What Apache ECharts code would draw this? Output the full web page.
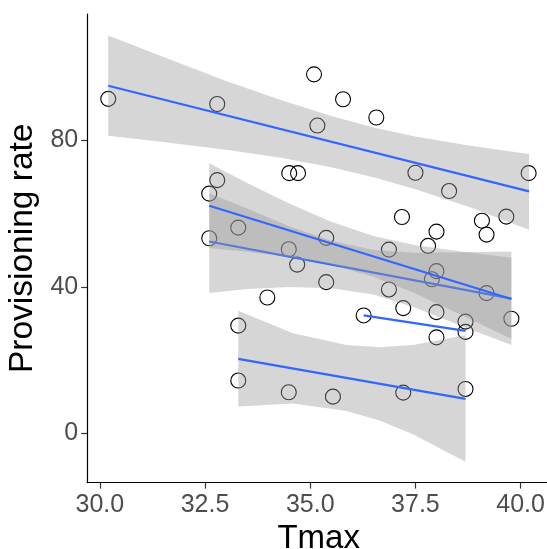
<!DOCTYPE html>
<html>
<head>
<meta charset="utf-8">
<script src="https://cdn.jsdelivr.net/npm/echarts@6/dist/echarts.min.js"></script>
<style>
html,body{margin:0;padding:0;background:#fff;}
#chart{width:547px;height:549px;}
</style>
</head>
<body>
<div id="chart"></div>
<script>
// ---- data ----
const xTicks = [30, 32.5, 35, 37.5, 40];
const yTicks = [0, 40, 80];
const xTitle = 'Tmax';
const yTitle = 'Provisioning rate';

const pointX = [30.2, 32.79, 35.09, 35.78, 36.57, 35.17, 34.50, 34.71, 37.50, 40.19, 38.30, 32.79, 32.60,
  37.18, 39.08, 39.66, 38.00, 39.19, 37.80, 33.29, 32.60, 35.38, 34.49, 36.87, 34.69, 38.00, 37.89,
  35.38, 36.87, 39.19, 33.98, 37.21, 38.00, 36.27, 38.69, 39.78, 33.29, 38.69, 38.00, 33.29, 34.49,
  35.54, 37.21, 38.69];
const pointY = [91.4, 90.0, 98.1, 91.3, 86.3, 84.1, 71.1, 71.1, 71.2, 71.1, 66.2, 69.2, 65.5,
  59.1, 58.1, 59.2, 55.1, 54.3, 51.2, 56.2, 53.3, 53.4, 50.3, 50.2, 46.1, 44.3, 42.1,
  41.3, 39.3, 38.3, 37.1, 34.2, 33.1, 32.2, 30.5, 31.3, 29.4, 27.7, 26.2, 14.4, 11.2,
  10.0, 11.1, 12.1];

// group A (top)
const bandAX = [30.2, 31.5, 33.0, 34.3, 35.5, 36.5, 37.5, 38.8, 40.2];
const bandALo = [81.3, 79.6, 77.5, 75.3, 72.7, 70.0, 66.7, 61.8, 55.6];
const bandAHi = [108.7, 102.9, 96.3, 91.1, 86.7, 83.6, 81.1, 78.6, 76.3];
const lineAX = [30.2, 40.2];
const lineAY = [95.0, 66.1];

// group B (steeper middle)
const bandBX = [32.6, 33.5, 34.5, 35.5, 36.5, 37.5, 38.5, 39.78];
const bandBLo = [50.6, 49.6, 48.2, 46.1, 42.8, 38.2, 32.8, 25.8];
const bandBHi = [73.8, 68.4, 62.8, 57.8, 53.9, 51.4, 49.8, 48.0];
const lineBX = [32.6, 39.78];
const lineBY = [62.2, 36.7];

// group C (flatter middle)
const bandCX = [32.6, 33.5, 34.5, 35.5, 36.5, 37.5, 38.5, 39.78];
const bandCLo = [38.3, 39.4, 40.0, 39.6, 37.9, 34.3, 29.7, 24.1];
const bandCHi = [65.6, 61.4, 56.6, 52.6, 50.1, 49.3, 49.5, 49.7];
const lineCX = [32.6, 39.78];
const lineCY = [52.4, 36.8];

// group D (short, no band)
const lineDX = [36.27, 38.69];
const lineDY = [32.2, 28.0];

// group E (bottom)
const bandEX = [33.29, 34.59, 35.86, 36.65, 37.44, 38.69];
const bandELo = [7.3, 8.1, 6.1, 3.5, -0.3, -7.8];
const bandEHi = [33.5, 27.3, 24.1, 23.5, 24.1, 26.8];
const lineEX = [33.29, 38.69];
const lineEY = [20.3, 9.4];

// ---- chart ----
const BLUE = '#3366FF';
const BAND = 'rgba(153,153,153,0.4)';
const FONT = '"Liberation Sans", Arial, sans-serif';

function zip(xs, ys) { return xs.map((x, i) => [x, ys[i]]); }

function bandSeries(xs, lo, hi, z) {
  return {
    type: 'custom',
    z: z,
    silent: true,
    data: xs.map((x, i) => [x, lo[i], hi[i]]),
    encode: { x: 0, y: [1, 2] },
    renderItem: function (params, api) {
      if (params.dataIndex !== 0) return null;
      const top = xs.map((x, i) => api.coord([x, hi[i]]));
      const bot = xs.map((x, i) => api.coord([x, lo[i]])).reverse();
      return {
        type: 'polygon',
        shape: { points: top.concat(bot) },
        style: { fill: BAND, stroke: null }
      };
    }
  };
}

function lineSeries(xs, ys, z) {
  return {
    type: 'line',
    z: z,
    silent: true,
    data: zip(xs, ys),
    symbol: 'none',
    lineStyle: { color: BLUE, width: 2.2 },
    animation: false
  };
}

const chart = echarts.init(document.getElementById('chart'), null, { renderer: 'canvas' });
chart.setOption({
  animation: false,
  backgroundColor: '#ffffff',
  grid: { left: 87.2, top: 14, right: -3.1, bottom: 66.4, containLabel: false, outerBoundsMode: 'none' },
  xAxis: {
    type: 'value',
    min: 29.7, max: 40.7,
    name: xTitle,
    nameLocation: 'middle',
    nameGap: 40,
    nameTextStyle: { fontFamily: FONT, fontSize: 33, color: '#000' },
    axisLine: { show: true, onZero: false, lineStyle: { color: '#000', width: 1.2 } },
    axisTick: { show: true, length: 6, lineStyle: { color: '#333', width: 1.2 }, customValues: xTicks },
    axisLabel: { show: true, margin: 10, fontFamily: FONT, fontSize: 25, color: '#4D4D4D',
      customValues: xTicks, formatter: v => Number(v).toFixed(1) },
    splitLine: { show: false }
  },
  yAxis: {
    type: 'value',
    min: -13.5, max: 114.6,
    name: yTitle,
    nameLocation: 'middle',
    nameGap: 43,
    nameRotate: 90,
    nameTextStyle: { fontFamily: FONT, fontSize: 33.5, color: '#000' },
    axisLine: { show: true, onZero: false, lineStyle: { color: '#000', width: 1.2 } },
    axisTick: { show: true, length: 6, lineStyle: { color: '#333', width: 1.2 }, customValues: yTicks },
    axisLabel: { show: true, margin: 9, fontFamily: FONT, fontSize: 25, color: '#4D4D4D',
      customValues: yTicks },
    splitLine: { show: false }
  },
  series: [
    {
      type: 'scatter',
      z: 2,
      silent: true,
      data: zip(pointX, pointY),
      symbol: 'circle',
      symbolSize: 15,
      itemStyle: { color: 'rgba(0,0,0,0)', borderColor: '#000', borderWidth: 1.1, opacity: 1 }
    },
    bandSeries(bandEX, bandELo, bandEHi, 3),
    lineSeries(lineEX, lineEY, 4),
    lineSeries(lineDX, lineDY, 5),
    bandSeries(bandCX, bandCLo, bandCHi, 6),
    lineSeries(lineCX, lineCY, 7),
    bandSeries(bandBX, bandBLo, bandBHi, 8),
    lineSeries(lineBX, lineBY, 9),
    bandSeries(bandAX, bandALo, bandAHi, 10),
    lineSeries(lineAX, lineAY, 11)
  ]
});
</script>
</body>
</html>
